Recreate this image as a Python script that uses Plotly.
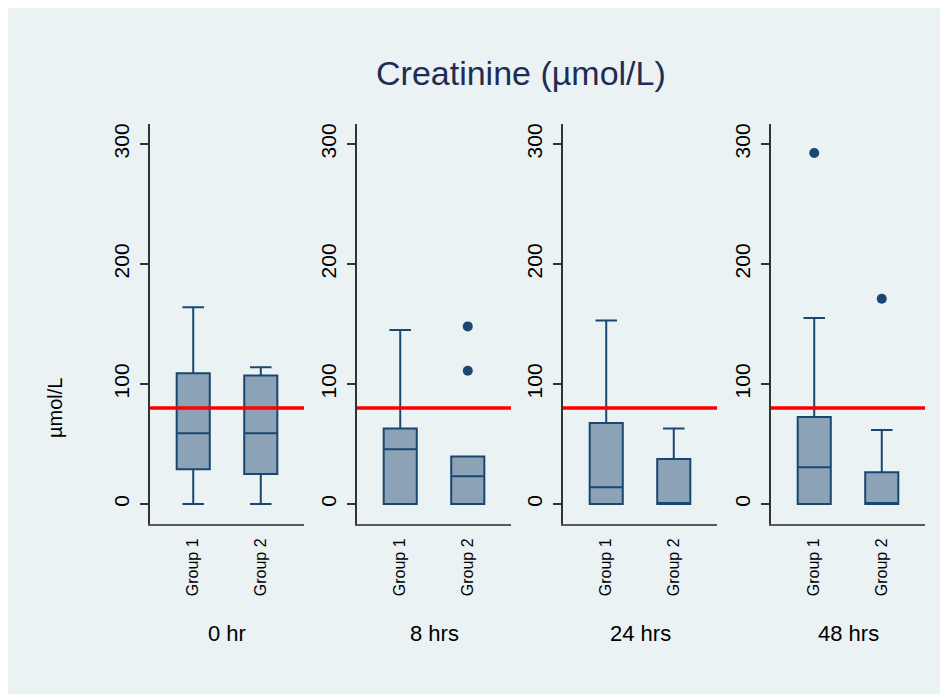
import plotly.graph_objects as go

# ---- data ----
panels = ["0 hr", "8 hrs", "24 hrs", "48 hrs"]
groups = ["Group 1", "Group 2"]
q1 = [[29, 25], [0, 0], [0, 0], [0, 0]]
median = [[59, 59], [45.5, 23], [14, 0], [30.5, 0]]
q3 = [[109, 107], [63, 39.5], [67.5, 37.5], [72.5, 26.4]]
lowerfence = [[0, 0], [0, 0], [0, 0], [0, 0]]
upperfence = [[164, 114], [145, 39.5], [153, 63], [155, 61.7]]
outlier_groups = [[], ["Group 2", "Group 2"], [], ["Group 1", "Group 2"]]
outlier_values = [[], [148, 111], [], [292.5, 171]]
reference_value = 80
y_ticks = [0, 100, 200, 300]

BG = "#EAF2F3"
NAVY = "#1A476F"
FILL = "#8CA2B6"
FONT = "Liberation Sans, Arial, sans-serif"

W, H = 948, 694
x_left = [142, 349, 555, 763]
panel_w = 154
y_top, y_bot = 116, 516

fig = go.Figure()
for i, p in enumerate(panels):
    xa = "x" if i == 0 else f"x{i+1}"
    ya = "y" if i == 0 else f"y{i+1}"
    fig.add_trace(go.Box(
        x=groups, q1=q1[i], median=median[i], q3=q3[i],
        lowerfence=lowerfence[i], upperfence=upperfence[i],
        fillcolor=FILL, line=dict(color=NAVY, width=2),
        width=0.49, whiskerwidth=0.65, boxpoints=False,
        xaxis=xa, yaxis=ya, showlegend=False, hoverinfo="skip"))
    if outlier_values[i]:
        fig.add_trace(go.Scatter(
            x=outlier_groups[i], y=outlier_values[i], mode="markers",
            marker=dict(color=NAVY, size=10),
            xaxis=xa, yaxis=ya, showlegend=False, hoverinfo="skip"))
    fig.add_shape(type="line", xref=f"{xa} domain", yref=ya,
                  x0=0, x1=1, y0=reference_value, y1=reference_value,
                  line=dict(color="#FF0000", width=3.5), layer="above")

layout = dict(
    width=W, height=H, margin=dict(l=0, r=0, t=0, b=0),
    paper_bgcolor=BG, plot_bgcolor=BG,
    font=dict(family=FONT, color="black"),
)
for i in range(4):
    sx = "" if i == 0 else str(i + 1)
    layout[f"xaxis{sx}"] = dict(
        domain=[x_left[i] / W, (x_left[i] + panel_w) / W],
        anchor=f"y{sx}", type="category", categoryorder="array",
        categoryarray=groups, range=[-0.64, 1.64],
        showline=True, linecolor="#595959", linewidth=2, mirror=False,
        showgrid=False, zeroline=False, ticks="", tickangle=-90,
        tickfont=dict(size=16, color="black", family=FONT),
        ticklabelstandoff=6,
    )
    layout[f"yaxis{sx}"] = dict(
        domain=[1 - y_bot / H, 1 - y_top / H],
        anchor=f"x{sx}", range=[-16.7, 316.7],
        tickvals=y_ticks, ticktext=[str(v) for v in y_ticks],
        showline=True, linecolor="#333333", linewidth=1.5,
        showgrid=False, zeroline=False, ticks="outside", ticklen=8,
        tickcolor="#333333", tickwidth=1.5, tickangle=-90,
        tickfont=dict(size=21, color="black", family=FONT),
        ticklabelstandoff=3,
    )
fig.update_layout(**layout)

annotations = [
    dict(text="Creatinine (µmol/L)", x=512.5 / W, y=1 - 65 / H, xref="paper", yref="paper",
         xanchor="center", yanchor="middle",
         showarrow=False, font=dict(size=34, color="#1F2D56", family=FONT)),
    dict(text="µmol/L", x=47 / W, y=1 - 400 / H, xref="paper", yref="paper",
         xanchor="center", yanchor="middle",
         showarrow=False, textangle=-90, font=dict(size=20, color="black", family=FONT)),
]
for i, p in enumerate(panels):
    annotations.append(dict(text=p, x=(x_left[i] + panel_w / 2) / W, y=1 - 625 / H,
                            xref="paper", yref="paper", showarrow=False,
                            xanchor="center", yanchor="middle",
                            font=dict(size=22, color="black", family=FONT)))
fig.update_layout(annotations=annotations)

fig.write_html("out.html")
